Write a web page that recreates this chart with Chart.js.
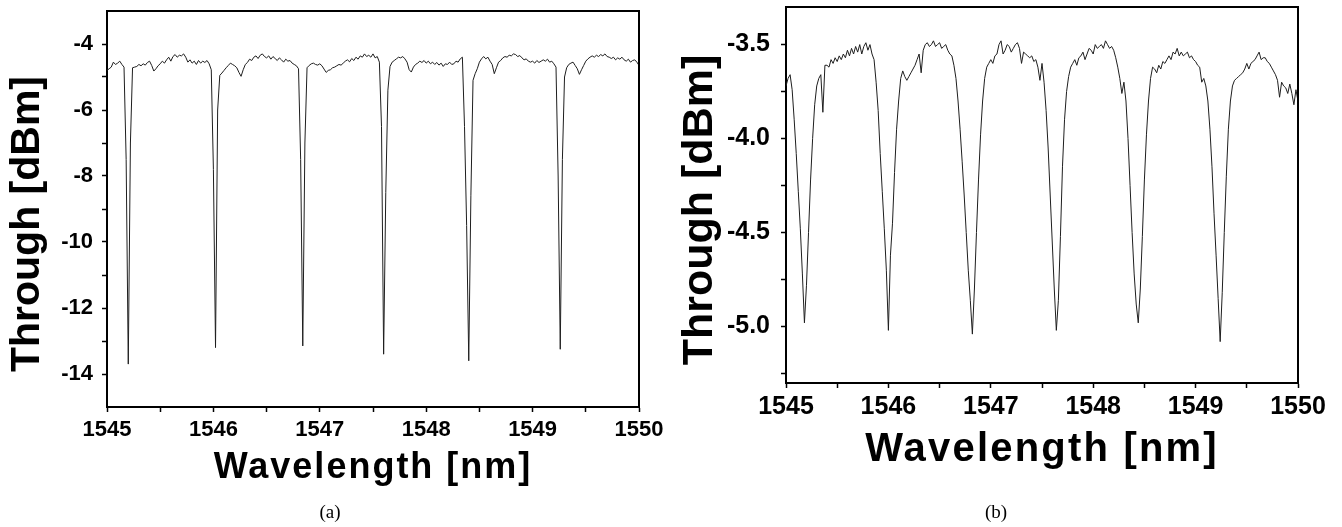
<!DOCTYPE html>
<html>
<head>
<meta charset="utf-8">
<script src="https://cdn.jsdelivr.net/npm/chart.js@4.4.1/dist/chart.umd.min.js"></script>
<style>
  html, body { margin: 0; padding: 0; background: #fff; }
  body { width: 1342px; height: 527px; position: relative; overflow: hidden; }
  canvas { position: absolute; top: 0; }
  #ca { left: 0; }
  #cb { left: 670px; }
  .cap { position: absolute; font-family: 'Liberation Serif', 'Times New Roman', serif; font-size: 19px; color: #000; transform: translate(-50%, -50%); white-space: nowrap; }
</style>
</head>
<body>
<canvas id="ca" width="670" height="527"></canvas>
<canvas id="cb" width="672" height="527"></canvas>
<div class="cap" style="left:330px; top:512px;">(a)</div>
<div class="cap" style="left:996px; top:512px;">(b)</div>
<script>
// ---- Data ----
const WL_START = 1545;
const WL_STEP = 0.02;

// Panel (a): Through power [dBm], sampled every 0.02 nm from 1545 to 1550 nm
const throughA = [
  -4.80, -4.75, -4.70, -4.55, -4.62, -4.58, -4.52, -4.62, -4.70, -7.5,
  -13.7, -7.0, -4.72, -4.70, -4.68, -4.62, -4.66, -4.60, -4.64, -4.56,
  -4.52, -4.65, -4.82, -4.75, -4.66, -4.60, -4.52, -4.58, -4.48, -4.40,
  -4.52, -4.38, -4.32, -4.40, -4.34, -4.36, -4.30, -4.40, -4.55, -4.48,
  -4.58, -4.52, -4.62, -4.50, -4.58, -4.52, -4.56, -4.50, -4.60, -4.78,
  -7.8, -13.2, -6.0, -4.95, -4.88, -4.80, -4.72, -4.65, -4.58, -4.62,
  -4.66, -4.72, -4.86, -4.98, -4.78, -4.62, -4.56, -4.46, -4.50, -4.40,
  -4.36, -4.44, -4.34, -4.30, -4.38, -4.42, -4.36, -4.46, -4.38, -4.44,
  -4.50, -4.42, -4.48, -4.55, -4.46, -4.52, -4.50, -4.58, -4.62, -4.66,
  -4.75, -7.5, -13.15, -7.0, -4.72, -4.65, -4.60, -4.58, -4.62, -4.64,
  -4.60, -4.66, -4.76, -4.86, -4.80, -4.78, -4.72, -4.70, -4.66, -4.62,
  -4.64, -4.58, -4.52, -4.48, -4.54, -4.44, -4.50, -4.40, -4.46, -4.36,
  -4.40, -4.30, -4.38, -4.34, -4.40, -4.30, -4.42, -4.38, -4.55, -6.5,
  -13.4, -8.5, -5.4, -4.68, -4.55, -4.50, -4.45, -4.40, -4.42, -4.38,
  -4.45, -4.55, -4.78, -4.85, -4.70, -4.62, -4.58, -4.52, -4.56, -4.50,
  -4.58, -4.52, -4.60, -4.55, -4.62, -4.56, -4.64, -4.58, -4.68, -4.60,
  -4.62, -4.55, -4.62, -4.60, -4.52, -4.55, -4.45, -4.40, -6.5, -9.5,
  -13.6, -8.6, -5.1, -4.90, -4.75, -4.55, -4.45, -4.38, -4.45, -4.40,
  -4.52, -4.62, -4.90, -4.72, -4.55, -4.50, -4.42, -4.38, -4.40, -4.34,
  -4.36, -4.30, -4.32, -4.38, -4.35, -4.42, -4.48, -4.45, -4.52, -4.55,
  -4.52, -4.58, -4.50, -4.56, -4.52, -4.48, -4.52, -4.46, -4.55, -4.52,
  -4.60, -4.70, -8.0, -13.25, -7.5, -5.0, -4.72, -4.62, -4.58, -4.55,
  -4.65, -4.75, -4.92, -4.78, -4.65, -4.52, -4.45, -4.40, -4.36, -4.40,
  -4.34, -4.38, -4.32, -4.36, -4.30, -4.38, -4.40, -4.44, -4.40, -4.48,
  -4.42, -4.46, -4.40, -4.48, -4.52, -4.46, -4.55, -4.50, -4.48, -4.55,
  -4.65
];

// Panel (b): Through power [dBm], sampled every 0.02 nm from 1545 to 1550 nm
const throughB = [
  -3.72, -3.68, -3.66, -3.74, -3.90, -4.08, -4.28, -4.48, -4.72, -4.98,
  -4.78, -4.50, -4.22, -4.00, -3.82, -3.72, -3.68, -3.66, -3.86, -3.61,
  -3.61, -3.62, -3.58, -3.60, -3.57, -3.59, -3.56, -3.58, -3.55, -3.57,
  -3.53, -3.56, -3.52, -3.55, -3.51, -3.54, -3.50, -3.55, -3.51, -3.49,
  -3.53, -3.50, -3.55, -3.58, -3.70, -3.85, -4.08, -4.28, -4.48, -4.70,
  -5.02, -4.62, -4.45, -4.18, -3.95, -3.80, -3.68, -3.64, -3.67, -3.69,
  -3.67, -3.65, -3.63, -3.61, -3.58, -3.55, -3.65, -3.53, -3.50, -3.49,
  -3.51, -3.50, -3.48, -3.51, -3.50, -3.49, -3.52, -3.51, -3.50, -3.53,
  -3.55, -3.56, -3.61, -3.68, -3.80, -3.95, -4.12, -4.30, -4.50, -4.70,
  -4.86, -5.04, -4.80, -4.50, -4.22, -3.98, -3.80, -3.68, -3.62, -3.60,
  -3.58, -3.60, -3.56, -3.55, -3.50, -3.48, -3.55, -3.53, -3.50, -3.51,
  -3.54, -3.52, -3.50, -3.49, -3.52, -3.60, -3.54, -3.55, -3.56, -3.57,
  -3.56, -3.59, -3.58, -3.62, -3.69, -3.60, -3.70, -3.85, -4.05, -4.30,
  -4.55, -4.80, -5.02, -4.86, -4.52, -4.15, -3.90, -3.75, -3.67, -3.62,
  -3.60, -3.58, -3.61, -3.57, -3.56, -3.54, -3.58, -3.55, -3.52, -3.53,
  -3.55, -3.50, -3.52, -3.51, -3.50, -3.52, -3.48, -3.50, -3.52, -3.51,
  -3.53, -3.57, -3.62, -3.68, -3.76, -3.70, -3.80, -4.00, -4.25, -4.50,
  -4.72, -4.88, -4.98, -4.80, -4.52, -4.22, -3.98, -3.80, -3.68, -3.62,
  -3.63, -3.65, -3.61, -3.63, -3.59, -3.60, -3.58, -3.56, -3.58, -3.54,
  -3.55, -3.52, -3.56, -3.54, -3.56, -3.55, -3.54, -3.57, -3.56, -3.58,
  -3.59, -3.61, -3.62, -3.70, -3.68, -3.72, -3.80, -3.95, -4.15, -4.40,
  -4.62, -4.85, -5.08, -4.82, -4.50, -4.20, -3.95, -3.80, -3.72, -3.69,
  -3.68, -3.67, -3.66, -3.65, -3.63, -3.60, -3.63, -3.60, -3.59, -3.58,
  -3.56, -3.54, -3.58, -3.57, -3.57, -3.59, -3.60, -3.62, -3.64, -3.66,
  -3.69, -3.78, -3.70, -3.72, -3.73, -3.76, -3.71, -3.76, -3.82, -3.74,
  -3.80
];

// Tick positions (major + minor) and the labelled ones
const xTicks = [1545, 1545.5, 1546, 1546.5, 1547, 1547.5, 1548, 1548.5, 1549, 1549.5, 1550];
const xTickLabels = [1545, 1546, 1547, 1548, 1549, 1550];
const yTicksA = [-14, -13, -12, -11, -10, -9, -8, -7, -6, -5, -4];
const yTickLabelsA = [-4, -6, -8, -10, -12, -14];
const yTicksB = [-5.25, -5.0, -4.75, -4.5, -4.25, -4.0, -3.75, -3.5];
const yTickLabelsB = [-3.5, -4.0, -4.5, -5.0];

const xTitle = 'Wavelength [nm]';
const yTitle = 'Through [dBm]';

// ---- Helpers ----
function toPoints(values) {
  return values.map((v, i) => ({ x: +(WL_START + i * WL_STEP).toFixed(2), y: v }));
}
const near = (list, v) => list.some(t => Math.abs(t - v) < 1e-6);

const FONT = "'Liberation Sans', Arial, Helvetica, sans-serif";

// Title tweaks: letter spacing / small offsets for the axis titles
const titleTweak = {
  id: 'titleTweak',
  beforeDraw(chart, args, opts) {
    Object.values(chart.scales).forEach(scale => {
      if (scale.$tweaked) return;
      const t = (opts && opts[scale.id]) || {};
      const orig = scale.drawTitle;
      scale.drawTitle = function () {
        const ctx = this.ctx;
        ctx.save();
        if (t.letterSpacing) ctx.letterSpacing = t.letterSpacing;
        ctx.translate(t.dx || 0, t.dy || 0);
        orig.apply(this, arguments);
        ctx.restore();
      };
      scale.$tweaked = true;
    });
  }
};

// Top and right frame lines of the plot box
const frame = {
  id: 'frame',
  afterDraw(chart) {
    const { ctx, chartArea: { left, top, right, bottom } } = chart;
    ctx.save();
    ctx.strokeStyle = '#000';
    ctx.lineWidth = 2;
    ctx.beginPath();
    ctx.moveTo(left - 1, top);
    ctx.lineTo(right, top);
    ctx.lineTo(right, bottom + 1);
    ctx.stroke();
    ctx.restore();
  }
};

function makeChart(canvasId, cfg) {
  const gridCommon = {
    display: true,
    drawOnChartArea: false,
    drawTicks: true,
    tickLength: 5,
    tickWidth: 1.5,
    tickColor: '#000'
  };
  return new Chart(document.getElementById(canvasId), {
    type: 'line',
    data: {
      datasets: [{
        data: toPoints(cfg.values),
        borderColor: '#1e1e1e',
        borderWidth: 1,
        pointRadius: 0,
        tension: 0,
        fill: false
      }]
    },
    options: {
      responsive: false,
      animation: false,
      devicePixelRatio: 1,
      layout: { padding: cfg.layoutPadding },
      plugins: {
        legend: { display: false },
        tooltip: { enabled: false },
        titleTweak: {
          x: { letterSpacing: cfg.xSpacing },
          y: { dy: 15 }
        }
      },
      scales: {
        x: {
          type: 'linear',
          position: 'bottom',
          min: 1545,
          max: 1550,
          grid: gridCommon,
          border: { display: true, color: '#000', width: 2 },
          afterBuildTicks: (s) => { s.ticks = xTicks.map(v => ({ value: v })); },
          ticks: {
            autoSkip: false,
            maxRotation: 0,
            padding: cfg.xTickPad,
            color: '#000',
            font: { family: FONT, size: cfg.tickSize, weight: 'bold' },
            callback: (v) => near(xTickLabels, v) ? String(Math.round(v)) : ''
          },
          title: {
            display: true,
            text: xTitle,
            color: '#000',
            font: { family: FONT, size: cfg.xTitleSize, weight: 'bold' },
            padding: { top: 0, bottom: cfg.xTitlePad }
          },
          afterFit: (s) => {
            s.height = cfg.xHeight;
            s.paddingLeft = 0; s.paddingRight = 0;
          }
        },
        y: {
          type: 'linear',
          position: 'left',
          min: cfg.yMin,
          max: cfg.yMax,
          grid: gridCommon,
          border: { display: true, color: '#000', width: 2 },
          afterBuildTicks: (s) => { s.ticks = cfg.yTicks.map(v => ({ value: v })); },
          ticks: {
            autoSkip: false,
            padding: cfg.yTickPad,
            color: '#000',
            font: { family: FONT, size: cfg.tickSize, weight: 'bold' },
            callback: (v) => near(cfg.yLabels, v) ? cfg.yFmt(v) : ''
          },
          title: {
            display: true,
            text: yTitle,
            color: '#000',
            font: { family: FONT, size: cfg.yTitleSize, weight: 'bold' },
            padding: { top: cfg.yTitlePad, bottom: 0 }
          },
          afterFit: (s) => {
            s.width = cfg.yWidth;
            s.paddingTop = 0; s.paddingBottom = 0;
          }
        }
      }
    },
    plugins: [titleTweak, frame]
  });
}

// Panel (a)
makeChart('ca', {
  values: throughA,
  layoutPadding: { left: 0, top: 11, right: 31, bottom: 0 },
  xHeight: 120,
  yWidth: 107,
  yMin: -15, yMax: -3,
  yTicks: yTicksA,
  yLabels: yTickLabelsA,
  yFmt: (v) => String(Math.round(v)),
  tickSize: 22,
  xTickPad: 5,
  yTickPad: 9,
  xTitleSize: 36,
  xSpacing: '2px',
  xTitlePad: 37,
  yTitleSize: 41,
  yTitlePad: 3
});

// Panel (b)
makeChart('cb', {
  values: throughB,
  layoutPadding: { left: 0, top: 7, right: 44, bottom: 0 },
  xHeight: 144,
  yWidth: 116,
  yMin: -5.3, yMax: -3.3,
  yTicks: yTicksB,
  yLabels: yTickLabelsB,
  yFmt: (v) => v.toFixed(1),
  tickSize: 25,
  xTickPad: 4,
  yTickPad: 11,
  xTitleSize: 40,
  xSpacing: '2.2px',
  xTitlePad: 53,
  yTitleSize: 43,
  yTitlePad: 4
});
</script>
</body>
</html>
